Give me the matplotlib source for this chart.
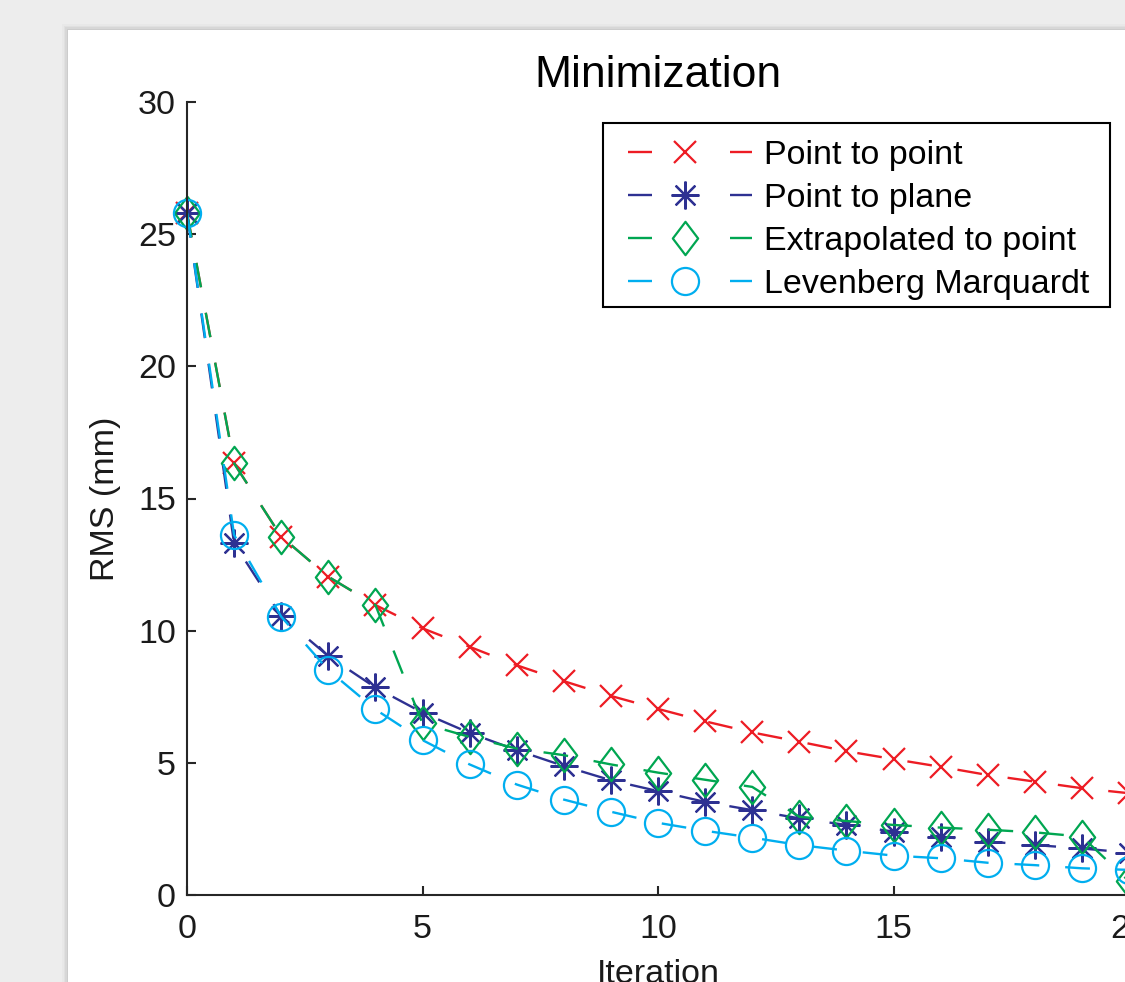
import matplotlib
matplotlib.use("Agg")
import matplotlib.pyplot as plt
from matplotlib.patches import Rectangle
from matplotlib.lines import Line2D
from matplotlib.path import Path

plt.rcParams['font.family'] = ['Liberation Sans', 'DejaVu Sans']

iterations = list(range(21))
point_to_point = [25.8, 16.33, 13.56, 12.04, 10.97, 10.09, 9.39, 8.69, 8.09, 7.53, 7.04,
                  6.57, 6.15, 5.80, 5.44, 5.14, 4.85, 4.54, 4.29, 4.04, 3.85]
point_to_plane = [25.8, 13.30, 10.55, 9.04, 7.85, 6.90, 6.13, 5.48, 4.88, 4.34, 3.93,
                  3.52, 3.21, 2.90, 2.65, 2.40, 2.21, 2.02, 1.89, 1.76, 1.60]
extrapolated = [25.8, 16.33, 13.56, 12.04, 10.97, 6.49, 5.98, 5.54, 5.29, 4.94, 4.63,
                4.36, 4.09, 2.96, 2.80, 2.65, 2.55, 2.47, 2.37, 2.21, 0.52]
levenberg = [25.8, 13.62, 10.53, 8.51, 7.02, 5.86, 4.94, 4.18, 3.61, 3.15, 2.73,
             2.43, 2.17, 1.89, 1.68, 1.49, 1.39, 1.22, 1.13, 1.01, 0.95]
labels = ["Point to point", "Point to plane", "Extrapolated to point", "Levenberg Marquardt"]
colors = ['#ED1C24', '#2E3192', '#00A651', '#00AEEF']

W, H = 1125, 982
fig = plt.figure(figsize=(W / 100, H / 100), dpi=100, facecolor='#ededed')

# white panel with soft shadow
px0, py0 = 68, 30
for i, a in enumerate([0.02, 0.03, 0.04, 0.05]):
    off = 6 - i * 1.5
    fig.patches.append(Rectangle(((px0 - off) / W, 0), 1, (H - py0 + off) / H,
                                 transform=fig.transFigure, facecolor='black',
                                 alpha=a, edgecolor='none', zorder=-10))
fig.patches.append(Rectangle((px0 / W, 0), 1, (H - py0) / H, transform=fig.transFigure,
                             facecolor='white', edgecolor='none', zorder=-5))

ax = fig.add_axes([187 / W, 87 / H, (1129 - 187) / W, (895 - 102) / H])
ax.set_facecolor('none')

diamond = Path([(0, 1), (0.76, 0), (0, -1), (-0.76, 0), (0, 1)],
               [Path.MOVETO, Path.LINETO, Path.LINETO, Path.LINETO, Path.CLOSEPOLY])
markers = ['x', (8, 2, 0), diamond, 'o']
msizes = [16, 20, 24, 19.5]
series = [point_to_point, point_to_plane, extrapolated, levenberg]

lw = 1.7
for ys, c, m, ms in zip(series, colors, markers, msizes):
    ax.plot(iterations, ys, color=c, lw=lw, dashes=(10.5, 11), marker=m, ms=ms,
            mfc='none', mec=c, mew=1.6, clip_on=False)

ax.set_xlim(0, 20)
ax.set_ylim(0, 30)
ax.set_xticks([0, 5, 10, 15, 20])
ax.set_yticks([0, 5, 10, 15, 20, 25, 30])
for s in ['top', 'right']:
    ax.spines[s].set_visible(False)
for s in ['left', 'bottom']:
    ax.spines[s].set_linewidth(1.5)
    ax.spines[s].set_color('#262626')
ax.tick_params(direction='in', length=6.5, width=1.5, color='#262626',
               labelsize=24.5, labelcolor='#1a1a1a')
ax.tick_params(axis='x', pad=14)
ax.tick_params(axis='y', pad=8)

ax.set_title("Minimization", fontsize=32, color='black', pad=11)
ax.set_ylabel("RMS (mm)", fontsize=24.5, color='#1a1a1a', labelpad=12)
ax.set_xlabel("Iteration", fontsize=24.5, color='#1a1a1a', labelpad=10)

# legend frame drawn as a figure rectangle (MATLAB-like box)
fig.patches.append(Rectangle((603 / W, 1 - 307 / H), 507 / W, 184 / H,
                             transform=fig.transFigure, facecolor='white',
                             edgecolor='black', lw=1.5, zorder=9))

# legend handle: small blank lead, dash, marker, dash (MATLAB style)
fs_px = 24.5 * 100 / 72
lw_px = lw * 100 / 72
lead = 11 / lw_px
on = 24 / lw_px
off = 78 / lw_px
handles = [Line2D([], [], color=c, lw=lw, ls=(on + off - lead, (on, off)), marker=m, ms=ms,
                  mfc='none', mec=c, mew=1.6)
           for c, m, ms in zip(colors, markers, msizes)]
leg = fig.legend(handles, labels, loc='upper left',
                 bbox_to_anchor=(617 / W, 1 - 140 / H), bbox_transform=fig.transFigure,
                 fontsize=24.5, handlelength=135 / fs_px, handletextpad=12 / fs_px,
                 labelspacing=0.35, borderpad=0, borderaxespad=0, frameon=False,
                 markerscale=1.0)
leg.set_zorder(10)

fig.savefig("out.png", dpi=100, facecolor=fig.get_facecolor())
